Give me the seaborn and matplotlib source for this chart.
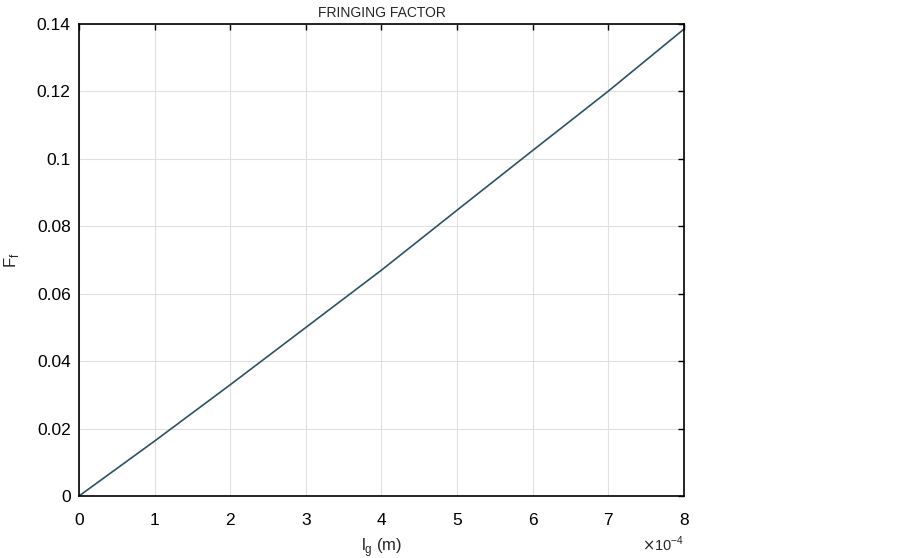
import matplotlib
matplotlib.use("Agg")
import matplotlib.pyplot as plt
import seaborn as sns
import pandas as pd

# air gap length (x 1e-4 m) and fringing factor
gap = [0, 1, 2, 3, 4, 5, 6, 7, 8]
ff = [0.0, 0.0163, 0.0330, 0.0500, 0.0670, 0.0848, 0.1025, 0.1201, 0.1385]

df = pd.DataFrame({"lg": gap, "Ff": ff})

sns.set_style("white")
plt.rcParams["font.family"] = ["Liberation Sans", "DejaVu Sans"]

fig = plt.figure(figsize=(9.03, 5.58), dpi=100)
ax = fig.add_axes([79 / 903, 1 - 496 / 558, (684 - 79) / 903, (496 - 24) / 558])

sns.lineplot(data=df, x="lg", y="Ff", ax=ax, color="#2b5266", linewidth=1.2)

ax.set_xlim(0, 8)
ax.set_ylim(0, 0.14)
ax.set_xticks(range(0, 9))
ax.set_yticks([0, 0.02, 0.04, 0.06, 0.08, 0.1, 0.12, 0.14])
ax.set_yticklabels(["0", "0.02", "0.04", "0.06", "0.08", "0.1", "0.12", "0.14"])
ax.grid(True, color="#e0e0e0", linewidth=0.8)
for s in ax.spines.values():
    s.set_visible(True)
    s.set_color("black")
    s.set_linewidth(1.2)
ax.tick_params(direction="in", length=4, width=1, top=True, right=True,
               labelsize=12.5, colors="black")
ax.tick_params(axis="x", pad=12)
ax.tick_params(axis="y", pad=6)

ax.set_title("FRINGING FACTOR", fontsize=10, pad=5)
ax.set_xlabel(r"l$_{\mathregular{g}}$ (m)", fontsize=12)
ax.set_ylabel(r"F$_{\mathregular{f}}$", fontsize=12)
ax.xaxis.set_label_coords(0.5, -0.085)
ax.yaxis.set_label_coords(-0.096, 0.5)
ax.text(1.0, -0.082, r"$\times$10$^{\mathregular{-4}}$", transform=ax.transAxes,
        ha="right", va="top", fontsize=10.5)

fig.savefig("out.png", dpi=100)
